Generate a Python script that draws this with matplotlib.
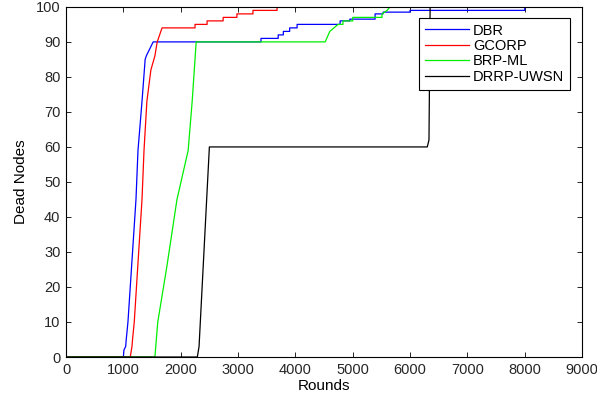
import matplotlib.pyplot as plt

plt.rcParams['font.family'] = ['Liberation Sans', 'DejaVu Sans']

# curves (rounds, dead nodes)
dbr_x = [0, 1000, 1010, 1040, 1050, 1080, 1220, 1255, 1325, 1380, 1400, 1430, 1520,
         3400, 3400, 3700, 3700, 3790, 3790, 3900, 3900, 4030, 4030, 4780, 4780,
         4950, 4950, 5390, 5390, 5530, 5530, 6000, 6000, 8000, 8000, 9000]
dbr_y = [0, 0, 2, 3, 5, 10, 45, 59, 73, 85, 86, 87, 90,
         90, 91, 91, 92, 92, 93, 93, 94, 94, 95, 95, 96,
         96, 96.5, 96.5, 98, 98, 98.5, 98.5, 99, 99, 100, 100]

gcorp_x = [0, 1120, 1150, 1160, 1190, 1325, 1360, 1410, 1480, 1550, 1590, 1675,
           2250, 2250, 2460, 2460, 2740, 2740, 2980, 2980, 3260, 3260, 3680, 3680, 9000]
gcorp_y = [0, 0, 3, 5, 10, 45, 59, 73, 82, 86, 90, 94,
           94, 95, 95, 96, 96, 97, 97, 98, 98, 99, 99, 100, 100]

brp_x = [0, 1550, 1600, 1760, 1935, 2130, 2200, 2270, 4520, 4600, 4745, 4830, 4830,
         5000, 5000, 5510, 5510, 5600, 5650, 9000]
brp_y = [0, 0, 10, 26, 45, 59, 73, 90, 90, 93, 95, 95, 96,
         96, 97, 97, 98, 99, 100, 100]

drrp_x = [0, 2290, 2320, 2500, 6300, 6330, 6350, 9000]
drrp_y = [0, 0, 3, 60, 60, 62, 100, 100]

fig = plt.figure(figsize=(5.97, 4.05), dpi=100)
ax = fig.add_axes([0.1106, 0.1185, 0.8644, 0.8645])

ax.plot(dbr_x, dbr_y, color='#0000ff', lw=0.9, label='DBR')
ax.plot(gcorp_x, gcorp_y, color='#ff0000', lw=0.9, label='GCORP')
ax.plot(brp_x, brp_y, color='#00ee00', lw=0.9, label='BRP-ML')
ax.plot(drrp_x, drrp_y, color='black', lw=0.9, label='DRRP-UWSN')

ax.set_xlim(0, 9000)
ax.set_ylim(0, 100)
ax.set_xticks(range(0, 9001, 1000))
ax.set_yticks(range(0, 101, 10))
ax.tick_params(direction='in', top=True, right=True, length=3.5, width=0.6,
               labelsize=10.5, labelcolor='#262626', pad=4)
for s in ax.spines.values():
    s.set_linewidth(0.8)

ax.set_xlabel('Rounds', fontsize=11, labelpad=2)
ax.set_ylabel('Dead Nodes', fontsize=11, labelpad=6)

leg = ax.legend(loc='upper left', bbox_to_anchor=(0.684, 0.969), borderaxespad=0,
                fontsize=10.5, handlelength=3.0, labelspacing=0.1, handletextpad=0.3,
                borderpad=0.4, fancybox=False, framealpha=1, edgecolor='black')
leg.get_frame().set_linewidth(0.8)

fig.savefig('out.png', dpi=100)
